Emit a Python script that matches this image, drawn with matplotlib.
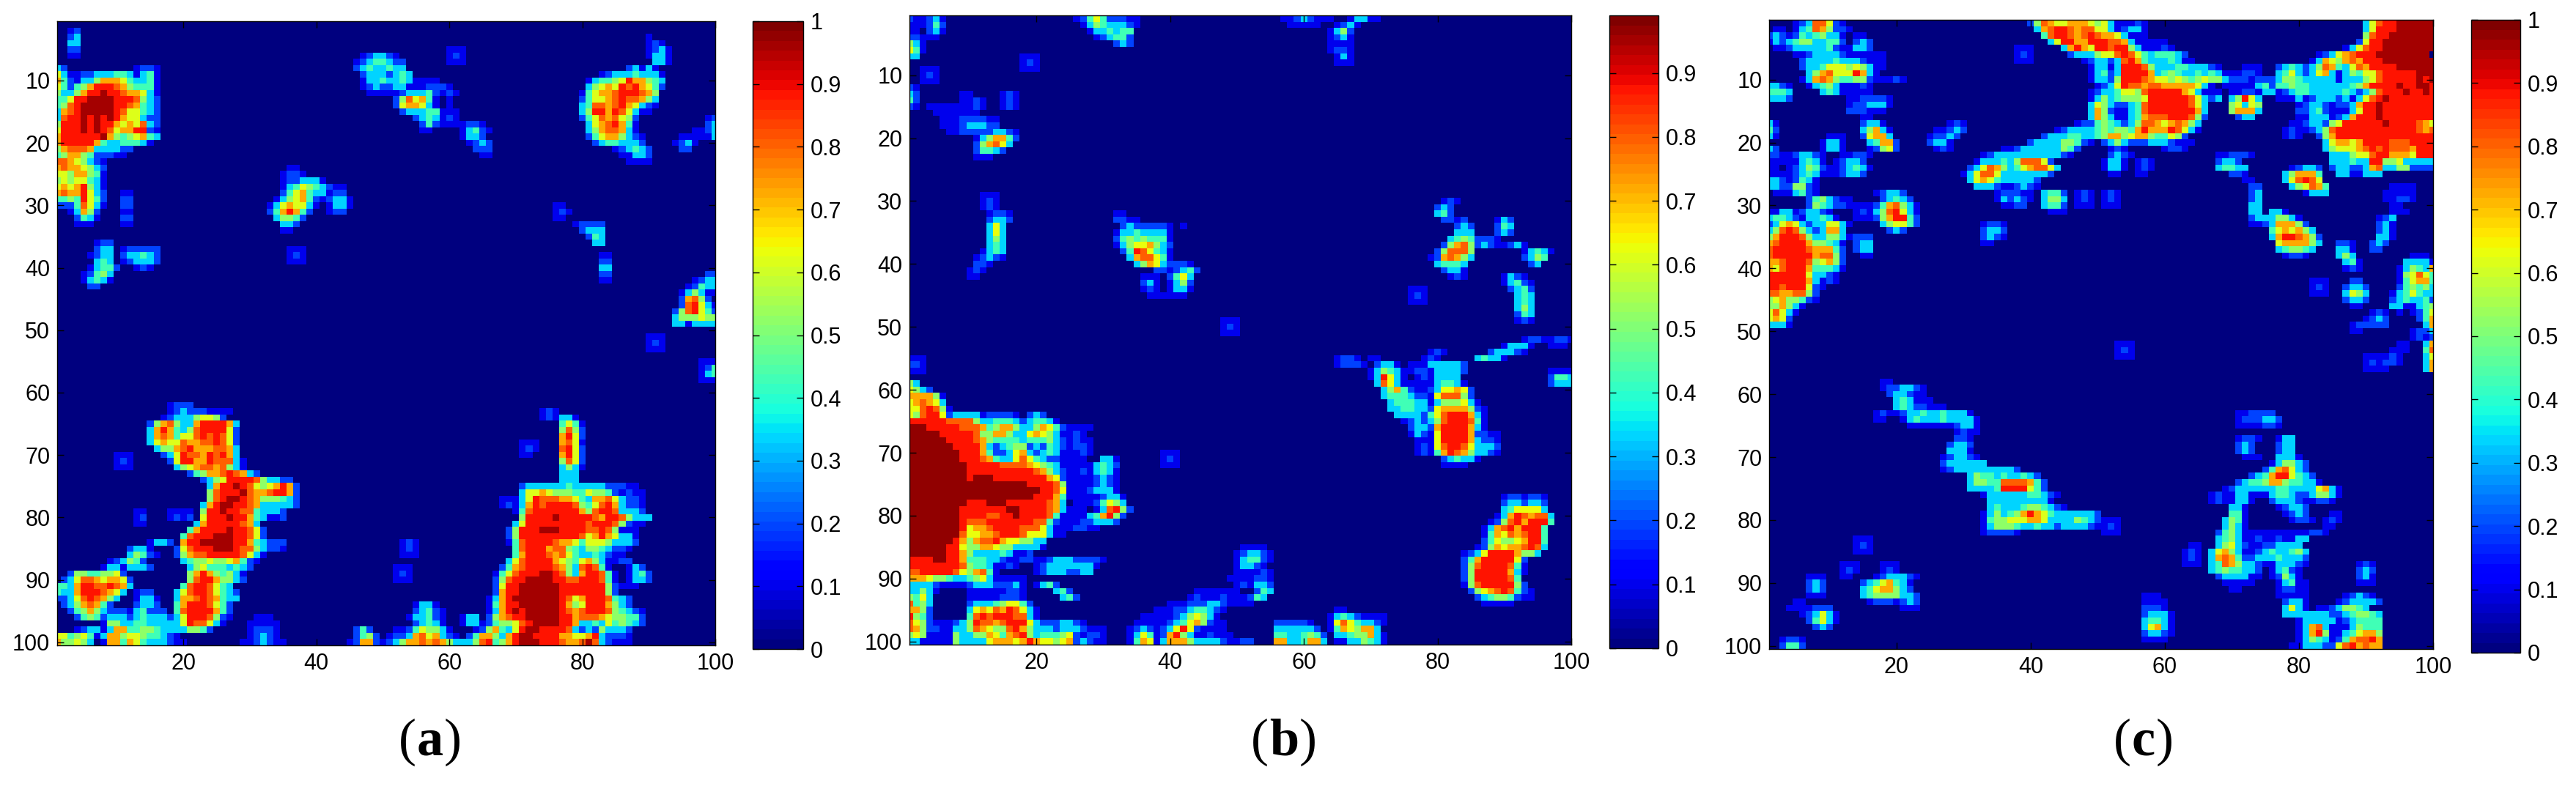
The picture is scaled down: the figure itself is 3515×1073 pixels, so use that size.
import matplotlib
matplotlib.use("Agg")
import matplotlib.pyplot as plt
import numpy as np

plt.rcParams['font.family'] = ['Liberation Sans', 'DejaVu Sans']

# digit in a run -> intensity of that cell
levels = {'0': 0, '1': .1, '2': .2, '3': .33, '4': .43, '5': .52, '6': .62,
          '7': .72, '8': .8, '9': .88, 'a': .96}

# each run is (row, first column, one digit per cell), 1-indexed
runs_a = [
    (2,3,"12"),(3,3,"23"),(4,3,"33"),(5,3,"22"),(6,3,"11"),
    (8,1,"3200000000001221"),(9,1,"6311223334431341"),(10,1,"7421335777643341"),(11,1,"6424579998754441"),
    (12,1,"5335799a99877631"),(13,1,"44699aaaa9998532"),(14,1,"4589aaaaa9987432"),(15,1,"3789aaaaa9866432"),
    (16,1,"3899a9a9a9766322"),(17,1,"5999a9a997676832"),(18,1,"6999a9a986779921"),(19,1,"7999999a75456743"),
    (20,1,"799999743344431"),(21,1,"578887333322"),(22,1,"457754222110"),(23,1,"8876532100"),
    (24,1,"78776532"),(25,1,"66577541"),(26,1,"56566431"),(27,1,"67679531"),(28,1,"78779632"),
    (29,1,"44549642"),(30,1,"22248631"),(31,1,"00137520"),(32,1,"0002431"),(33,1,"000111"),
    (6,47,"123321"),(7,46,"12344322"),(8,46,"23433433"),(9,47,"23332343"),(10,47,"133433431"),(11,47,"12322331"),(12,48,"11111"),
    (5,60,"111"),(6,60,"121"),(7,60,"111"),
    (10,56,"111"),(11,55,"112221"),(12,53,"233342121"),(13,52,"258674101"),(14,52,"267763101"),
    (15,53,"233344111"),(16,55,"2343121"),(17,56,"242111"),(18,56,"11"),
    (17,62,"1221"),(18,62,"13421"),(19,62,"1332"),(20,62,"01232"),(21,64,"222"),(22,65,"11"),
    (3,90,"1"),(4,90,"121"),(5,90,"1231"),(6,90,"1331"),(7,91,"331"),
    (8,87,"231310"),(9,83,"1233343331"),(10,81,"134456977543"),(11,81,"356769897642"),
    (12,80,"146778999875"),(13,80,"246678988753"),(14,80,"348878976321"),(15,80,"35997986311"),
    (16,80,"246878652"),(17,81,"36789741"),(18,81,"35788731"),(19,81,"246775321"),(20,82,"23443332"),
    (21,85,"123432"),(22,86,"11332"),(23,87,"1111"),
    (16,99,"12"),(17,99,"23"),(18,97,"1123"),(19,95,"111113"),(20,94,"1231"),(21,95,"22"),
    (24,36,"11"),(25,35,"1221"),(26,35,"1223331"),(27,35,"1346543211"),(28,35,"2467433122"),
    (29,34,"135674212331"),(30,33,"1367663101331"),(31,33,"247974200122"),(32,34,"35542"),(33,35,"332"),(34,35,"11"),
    (37,36,"111"),(38,36,"121"),(39,36,"111"),
    (28,11,"11"),(29,11,"22"),(30,11,"22"),(31,11,"11"),(32,11,"22"),(33,11,"11"),
    (36,7,"122"),(37,7,"233"),(38,6,"1233"),(39,7,"343"),(40,6,"13442"),(41,5,"12453"),(42,5,"13431"),(43,6,"22"),
    (37,11,"122222"),(38,11,"233432"),(39,11,"123332"),(40,13,"121"),
    (30,76,"11"),(31,76,"121"),(32,76,"11"),(33,79,"12222"),(34,80,"2333"),(35,81,"243"),(36,82,"33"),
    (38,83,"11"),(39,83,"22"),(40,83,"33"),(41,83,"22"),(42,83,"11"),
    (41,99,"22"),(42,97,"1233"),(43,96,"12433"),(44,95,"135311"),(45,95,"278520"),(46,95,"289631"),
    (47,94,"2589642"),(48,94,"3555655"),(49,94,"3313333"),
    (51,90,"111"),(52,90,"121"),(53,90,"111"),
    (55,98,"111"),(56,98,"124"),(57,98,"134"),(58,98,"111"),
    (62,18,"1222"),(63,18,"1232221111"),(64,17,"1233356652"),(65,15,"25785337999973"),
    (66,15,"37974358999962"),(67,15,"37874668989862"),(68,15,"36766877889862"),(69,16,"3557897778873"),
    (70,17,"236988798973"),(71,18,"269977988831"),(72,19,"35678878531"),(73,21,"24577898732"),
    (74,23,"23569999853322"),(75,24,"3799a986567972"),(76,24,"58999a87789972"),
    (77,24,"589aa987555432"),(78,23,"379aa99873333 32".replace(" ","")),(79,23,"599a998843332"),
    (80,23,"6999a99743112"),(81,22,"3799999873"),(82,21,"479999a99862"),(83,20,"48999aaa99862"),
    (84,20,"799aaaaa99743222"),(85,19,"268999aaa98853221"),(86,19,"25788999998631"),
    (87,20,"345565567421"),(88,21,"3564443432"),(89,21,"579754531"),(90,21,"589975532"),(91,20,"48998643"),
    (92,19,"3689986432"),(93,19,"3778987433"),(94,19,"479998642"),(95,19,"489999742"),(96,19,"369998521"),
    (97,19,"36988631"),(98,20,"35542"),
    (84,15,"1332"),(85,12,"2331"),(86,12,"35421"),(87,9,"123542"),(88,8,"13313332"),
    (89,3,"255445562"),(90,2,"23688767762"),(91,1,"443799889873"),(92,1,"43379998763"),(93,1,"2236898753"),
    (94,2,"23578742"),(95,3,"245753222"),(96,4,"245423"),
    (92,13,"122"),(93,13,"1331"),(94,13,"2332"),(95,12,"134222"),(96,9,"23323433322"),(97,8,"155334433333"),
    (98,4,"123313774455433321"),(99,1,"6645641377566544321"),(100,1,"75565301774764333211"),
    (70,10,"111"),(71,10,"121"),(72,10,"111"),(79,13,"11"),(80,13,"12"),(81,13,"11"),(79,18,"1111"),(80,18,"1212"),
    (96,31,"111"),(97,30,"11111"),(98,30,"12221"),(99,30,"12321"),(100,29,"1123211"),
    (98,46,"242"),(99,46,"2452"),(100,45,"12772"),
    (84,53,"121"),(85,53,"121"),(86,53,"111"),(88,52,"111"),(89,52,"121"),(90,52,"111"),
    (94,55,"1331"),(95,55,"23421"),(96,54,"133421"),(97,55,"23431"),(98,52,"112465531"),(99,51,"12237867321"),
    (100,50,"12357787875333"),(96,62,"133"),(97,62,"133"),
    (63,74,"121"),(64,74,"121331"),(65,77,"4641"),(66,77,"5852"),(67,77,"7962"),(68,77,"7861"),(69,77,"8962"),
    (70,77,"7962"),(71,77,"5862"),(72,77,"3531"),(73,77,"333"),(74,77,"333"),
    (68,71,"111"),(69,71,"121"),(70,71,"11"),
    (75,71,"233333343333322211"),(76,71,"366765554465542 1211".replace(" ","")),(77,68,"1113698887764377863221"),
    (78,68,"1213798999985468973221"),(79,70,"14899999997589983332"),(80,71,"59999a99999879985333"),
    (81,70,"36999999999899985211"),(82,69,"25999aaa999988985111"),(83,69,"25999999999867976331"),
    (84,69,"14899998776466653332"),(85,70,"489997885435543221"),(86,70,"47999878643343211"),
    (87,69,"3689999765467531122"),(88,68,"2478999987538984100132"),(89,67,"146899 9aa985379984101342".replace(" ","")),
    (90,67,"25899aaaa998899984101332"),(91,67,"2699aaaaaa9999999521 11".replace(" ","")),(92,67,"2799aaaaaa999999952"),
    (93,66,"1379aaaaaaa98679998432"),(94,66,"14799aaaaaa975699 97532".replace(" ","")),
    (95,66,"1379a9aaaaa987899985 4321".replace(" ","")),(96,66,"257899aaaaa9978887655442"),
    (97,65,"12455689aaaa9973343645432"),(98,64,"12574369aa99998323253332"),
    (99,63,"24775379aa999977667932221"),(100,62,"335894579aaa9998778a832111"),
]

runs_b = [
    (1,1,"211231"),(2,1,"111242"),(3,1,"110231"),(4,1,"22111"),(5,1,"531"),(6,1,"641"),(7,1,"33"),
    (9,3,"111"),(10,3,"121"),(11,3,"111"),(12,1,"21"),(13,1,"32"),(14,1,"42"),(15,1,"21"),
    (7,18,"111"),(8,18,"121"),(9,18,"111"),
    (1,26,"1246422211"),(2,26,"0135433321"),(3,28,"1334344"),(4,29,"123442"),(5,32,"232"),
    (1,57,"112321110013311"),(2,58,"11111001231"),(3,64,"1352"),(4,64,"1231"),(5,64,"1111"),(6,64,"1221"),(7,65,"131"),(8,65,"111"),
    (13,9,"11"),(13,15,"121"),(14,9,"1121"),(14,15,"121"),(15,4,"11111112100121"),(16,5,"1111111"),
    (17,6,"111222211"),(18,6,"111233322"),(19,6,"011222223321"),(20,11,"1357742"),(21,11,"257863"),(22,11,"24432"),(23,11,"111"),
    (29,12,"111"),(30,12,"121"),(31,12,"121"),(32,13,"1221"),(33,13,"2332"),(34,13,"363"),(35,13,"363"),(36,13,"353"),
    (37,13,"343"),(38,12,"1343"),(39,11,"12321"),(40,11,"221"),(41,10,"121"),(42,10,"11"),
    (32,32,"11"),(33,32,"2211"),(34,33,"2322222101"),(35,32,"133433331"),(36,32,"245454441"),(37,32,"135667532"),
    (38,33,"24986431"),(39,34,"3788641"),(40,35,"357632221"),(41,38,"2212342"),(42,36,"11102463"),(43,36,"23101352"),
    (44,36,"12101331"),(45,37,"111111"),
    (70,39,"111"),(71,39,"121"),(72,39,"111"),(49,48,"111"),(50,48,"121"),(51,48,"111"),
    (30,81,"121"),(31,80,"232"),(32,80,"342"),(33,81,"2212"),(34,83,"232"),(35,83,"333"),(36,82,"34542"),(37,81,"257851"),
    (38,80,"258885"),(39,79,"1278753"),(40,80,"34443"),(41,81,"2331"),(42,82,"121"),
    (33,89,"132"),(34,89,"243"),(35,89,"232"),(36,86,"1221"),(37,86,"23211231"),(38,93,"13431"),(39,93,"2354"),(40,94,"23"),
    (42,90,"1321"),(43,90,"13421"),(44,91,"2342"),(45,92,"343"),(46,92,"343"),(47,92,"353"),(48,92,"243"),(49,92,"121"),
    (44,76,"111"),(45,76,"121"),(46,76,"111"),
    (52,93,"12210121"),(53,90,"1333100111"),(54,79,"121000000233321"),(55,65,"1221011"),(55,78,"1210000034331"),
    (56,65,"1222101"),(56,71,"23310111333332"),(57,70,"135431"),(57,76,"122133332"),
    (58,70,"13963101213333"),(59,71,"38631111134431"),(60,72,"35742112366762"),(61,72,"34443221688852"),
    (62,73,"34443313555631"),(63,73,"334433267777521"),(64,74,"33332468999731"),(65,75,"1232358999841"),
    (66,76,"233279999731"),(67,76,"13216999972211"),(68,77,"1116999973221"),(69,77,"1216899863332"),(70,77,"1214798753321"),
    (71,81,"234331"),(72,81,"1111"),
    (52,97,"1221"),(57,97,"1111"),(58,97,"2443"),(59,97,"2333"),
    (77,90,"1221221"),(78,90,"2332332"),(79,90,"3466663"),(80,89,"137987883"),(81,88,"1258979994"),(82,87,"1378979994"),
    (83,87,"1476878994"),(84,87,"2465567994"),(85,86,"12576778983"),(86,84,"123699997553"),(87,84,"2479999962"),
    (88,84,"2589999841"),(89,84,"2599999731"),(90,84,"259999984"),(91,84,"1589999952"),(92,85,"2567898421"),(93,86,"234554211"),(94,87,"11111"),
    (55,1,"111"),(56,1,"221"),(57,1,"111"),(59,1,"53"),(60,1,"6532"),(61,1,"777751"),(62,1,"678763"),(63,1,"6689851"),
    (64,1,"658996233331222210232"),(65,1,"99999988885334443234431"),(66,1,"aaa9999988874577533576421111"),
    (67,1,"aaaaa9999985577533676531121"),(68,1,"aaaaaa9999875444434445321211"),(69,1,"aaaaaaa999973234552324321221"),
    (70,1,"aaaaaaaa99974223673234311121"),(71,1,"aaaaaaaa999874336864322111100331"),
    (72,1,"aaaaaaaaa9999988887654311111 3432".replace(" ","")),(73,1,"aaaaaaaaa99999999998753211213431"),
    (74,1,"aaaaaaaaa9aaa9999999976211112321"),(75,1,"aaaaaaaaaaaaaaaaaa99998511112321"),
    (76,1,"aaaaaaaaaaaaaaaaaaaa998611123331"),(77,1,"aaaaaaaaaaaaaaaaaaa99974111112331"),
    (78,1,"aaaaaaaaa999aaa999999873011124653"),(79,1,"aaaaaaaa9999999aa99998731110138952"),
    (80,1,"aaaaaaaa99998899a9999841111347952"),(81,1,"aaaaaaaa9888999999988421112 23332".replace(" ","")),
    (82,1,"aaaaaaaa967789999888631112211"),(83,1,"aaaaaaaa866778999866 6311".replace(" ","")),(84,1,"aaaaaaa97578897665533"),
    (85,1,"aaaaaa99655776553333 1".replace(" ","")),(86,1,"aaaaaa99753333431 12".replace(" ","")),
    (87,1,"9999aa997444332112211233322221"),(88,1,"99999999854431121001233333331"),
    (89,1,"8899999865784100000123332233"),(90,1,"777655433456311111"),(91,1,"3333211112333222310134 2".replace(" ","")),
    (92,1,"3353100001111112210000342"),(93,1,"5463"),(94,1,"8453"),
    (93,10,"111112221"),(94,10,"2333456642"),(93,24,"342"),(95,1,"7752"),(95,10,"36768798631"),(96,1,"9542"),(96,10,"48989998831"),
    (97,1,"8652111"),(97,8,"23598878999632223321"),(98,1,"875221133587655897533323332111"),
    (99,1,"565111153355764789534445621221"),(100,1,"331111153333677767976656723211"),
    (85,51,"1111"),(86,50,"123321"),(87,50,"134421"),(88,50,"13321"),(89,50,"111121"),(90,49,"1111221"),(91,50,"121332"),
    (92,44,"111111100243"),(93,43,"121112111243"),(94,40,"1112223321111"),(95,38,"11122344321"),(96,36,"111112356531"),
    (97,35,"11111234675211"),(98,34,"123212369621111"),(99,34,"1364127953112111"),(100,34,"1476137775333321122"),
    (97,56,"222221"),(98,56,"3333332"),(99,56,"44334542"),(100,56,"77334773"),
    (95,65,"11"),(96,64,"134321111"),(97,64,"168643321"),(98,64,"14765773"),(99,65,"33455731"),(100,65,"11335431"),
]

runs_c = [
    (1,5,"12388621"),(2,2,"110134875221"),(3,1,"232124345331011"),(4,1,"1323455334420232"),(5,2,"112333334211332"),
    (6,5,"11233332111111"),(7,6,"2333343332111"),(8,6,"2334666565311"),(9,7,"35786669731"),(10,6,"1378754455211121"),
    (11,1,"3321"),(11,7,"1345311121"),(12,1,"4443"),(12,9,"34311111"),(13,1,"3332"),(13,13,"1122221"),(14,13,"1223331"),
    (15,13,"222111"),(16,15,"11"),(17,1,"31"),(17,15,"2331"),(18,1,"42"),(18,15,"35731"),(19,1,"31"),(19,15,"26773"),
    (20,16,"34772"),(21,16,"12562"),(19,10,"111"),(20,9,"1331"),(21,9,"1331"),
    (21,1,"32"),(22,1,"2211233210011221"),(23,1,"111113431012332"),(24,1,"1101235421123431"),(25,1,"111123431112332"),
    (26,1,"33212431"),(27,1,"33225521"),(28,2,"1113421"),(29,7,"2453211"),(30,7,"2543221"),(31,1,"1133123321"),
    (32,1,"34432133431"),(33,1,"2367632336631"),(34,1,"358985323773"),(35,1,"5799985335531"),
    (36,1,"789999755431"),(37,1,"899999877742"),(38,1,"899999978852"),(39,1,"778999856752"),(40,1,"768999744431"),
    (41,1,"99999963321"),(42,1,"99999973121"),(43,1,"998999621"),(44,1,"88778852"),(45,1,"56755421"),(46,1,"557531"),
    (47,1,"68631"),(48,1,"6762"),(49,1,"3331"),
    (28,17,"12332"),(29,18,"23432"),(30,17,"2478531"),(31,17,"3589631"),(32,17,"2579942"),(33,18,"356642"),(34,19,"232"),
    (30,14,"111"),(31,14,"121"),(32,14,"111"),(35,14,"222"),(36,14,"233"),(37,14,"233"),(38,15,"11"),
    (17,28,"121"),(18,26,"11232"),(19,25,"12232"),(20,25,"2331"),(21,26,"121"),
    (17,47,"1221"),(18,44,"123332"),(19,42,"23334431"),(20,40,"2333355421"),(21,36,"112333333542"),(22,33,"12333333333321"),
    (23,32,"133343588862"),(24,31,"23687534678863"),(25,30,"13688633333332"),(26,31,"36764333332"),(27,32,"3332112321"),
    (28,35,"1222110344201210121"),(29,35,"1323210355301210121"),(30,36,"112200344201110111"),(31,43,"111"),
    (33,33,"1221"),(34,33,"2332"),(35,33,"2321"),(36,33,"11"),(5,38,"111"),(6,38,"121"),(7,38,"111"),
    (1,40,"25876677765631112 1".replace(" ","")),(2,41,"37899878866312331"),(3,42,"4899878987763111"),
    (4,43,"369977999887311111"),(5,45,"37976998995311121"),(6,46,"233356689864344432"),(7,48,"12332389743334311"),
    (8,49,"13313999853334433321"),(9,49,"13423999973454334343111"),(10,49,"133259998766565456553111"),
    (11,50,"12369887887777763101"),(12,49,"12334665899999763111"),(13,49,"13534555699999986323"),
    (14,49,"365322348999999863"),(15,49,"375211348999999973"),(16,49,"375311347888999852"),(17,49,"24543235887678753"),
    (18,48,"134545547977798631"),(19,48,"1345775677544652"),(20,51,"23532223332111"),(21,52,"121000001221"),(22,52,"2321"),
    (23,51,"13310121"),(24,51,"13310121"),(25,52,"110011"),
    (12,70,"11221"),(13,70,"35963"),(14,70,"56365"),(15,70,"57773"),(16,71,"233"),
    (8,72,"111"),(9,71,"1221"),(10,68,"22222122"),(11,69,"11111341"),(12,75,"33"),
    (1,90,"36899aaaaaa"),(2,90,"36999aaaaaa"),(3,90,"5899aaaaaaa"),(4,89,"2699aaaaaaaa"),(5,87,"136899aaaaaaaa"),
    (6,83,"123678999aaaaaaaa"),(7,82,"1376578799 9aaaaaaaa".replace(" ","")),(8,77,"234323587436879999aaaaaa"),
    (9,77,"346323673135466899999aaa"),(10,76,"2355433333133356899999a9a"),(11,76,"2445443333334579999a99aa9"),
    (12,76,"11234433333432358999a99a9"),(13,77,"1113123332313689a9999999"),(14,80,"123321223799a99999999"),
    (15,80,"223421113699a99999999"),(16,80,"113331237999a99999999"),(17,79,"1123325699 9999a9999876".replace(" ","")),
    (18,78,"12112358999999999999878"),(19,78,"12100257999999999999999"),(20,84,"36776799998889999"),
    (21,84,"35666789898887999"),(22,85,"3335668997776999"),(23,85,"3334339955633333"),(24,85,"2332237833552222"),(25,86,"3311333"),
    (22,68,"112221"),(23,68,"2332"),(24,68,"34433"),(25,70,"221"),(26,72,"11"),(27,73,"22"),(28,73,"23"),(29,73,"23"),
    (30,73,"33"),(31,73,"33"),(32,73,"233"),(33,73,"112"),
    (31,76,"331"),(32,76,"35531"),(33,76,"377752"),(34,76,"4676753"),(35,76,"37998752"),(36,77,"6777753"),(37,77,"345543"),(38,78,"1221"),
    (24,79,"12332"),(25,78,"357774"),(26,78,"368986"),(27,79,"356874"),(28,81,"1333"),
    (36,86,"221"),(37,86,"331"),(38,86,"353"),(39,87,"341"),(40,87,"121"),(42,82,"111"),(43,82,"121"),(44,82,"111"),
    (42,88,"22"),(43,87,"2332"),(44,87,"3653"),(45,87,"2332"),(46,88,"11"),(47,91,"121"),(48,90,"1232"),(49,88,"122222"),(50,88,"11"),
    (30,94,"11"),(31,94,"111"),(32,92,"123"),(33,92,"231"),(34,92,"231"),(35,92,"331"),(36,91,"232"),(37,91,"22"),
    (27,94,"1111"),(28,93,"11111"),(29,93,"11221"),
    (38,97,"111"),(39,96,"33331"),(40,95,"135437"),(41,95,"156864"),(42,95,"146774"),(43,95,"245453"),(44,94,"1346433"),
    (45,94,"2343342"),(46,94,"3311345"),(47,95,"101246"),(48,98,"247"),(49,99,"37"),(50,97,"1223"),(51,97,"1212"),
    (52,99,"37"),(53,99,"48"),(54,99,"36"),(55,99,"37"),(56,99,"37"),
    (52,95,"11"),(53,94,"111"),(54,90,"111121"),(55,90,"121221"),(56,90,"1111"),
    (52,53,"111"),(53,53,"121"),(54,53,"111"),
    (58,18,"11"),(59,18,"1223321"),(60,19,"233211"),(61,20,"343111"),(62,20,"34322111"),(63,17,"121123343343331"),
    (64,17,"1100134333433331"),(65,22,"11111112331"),(66,29,"1211"),(67,29,"221"),(68,28,"2332"),(69,28,"3331"),
    (70,27,"123321"),(71,27,"2333333"),(72,27,"123333333332"),(73,31,"35443433432"),(74,31,"355448888742"),(75,31,"333349999642"),
    (76,33,"133333344321"),(77,34,"3333333331"),(78,34,"343334554321"),(79,33,"135345797643333332"),(80,33,"145566677633335432"),
    (81,33,"135554334332333321"),(82,33,"122221"),
    (63,71,"112222"),(64,71,"1222332"),(65,71,"1111221"),(67,71,"1221"),(68,71,"232"),(69,71,"232"),(70,72,"111"),
    (67,77,"133"),(68,77,"233"),(69,77,"233"),(70,77,"3331"),(71,76,"135532"),(72,75,"2478632"),(73,73,"2347996432"),
    (74,71,"2344577544331"),(75,69,"123333334433336731"),(76,67,"12113311134432235531"),(77,67,"1211331002333211221"),
    (78,70,"331"),(78,77,"12332"),(79,70,"441"),(79,78,"1232"),(79,85,"11"),(80,69,"3541"),(80,79,"1221"),(80,84,"121"),
    (81,69,"3531"),(81,84,"11"),(82,68,"24531111111111221"),(83,68,"34531121121133"),(84,64,"11"),(84,68,"3563211223333"),
    (85,63,"1210367531123433453"),(86,63,"1210378742233343332"),(87,63,"1110348753321133321"),(88,67,"34544332013421"),
    (89,68,"2333311012531"),(90,69,"1111100013411"),(91,70,"11"),(91,77,"12211"),(92,77,"11111"),
    (93,78,"2331"),(94,78,"3631"),(95,78,"3331"),
    (92,57,"111"),(93,57,"1111"),(94,57,"2221"),(95,57,"23331"),(96,57,"34431"),(97,57,"36731"),(98,57,"23321"),(99,57,"1111"),
    (80,51,"111"),(81,51,"121"),(82,51,"111"),(83,14,"111"),(84,14,"121"),(85,14,"111"),(87,12,"111"),(88,12,"121"),(89,12,"11"),
    (87,18,"111"),(88,18,"121"),(89,17,"1233321"),(90,15,"23467431"),(91,15,"34677532"),(92,15,"345555332"),(93,16,"12221232"),(94,21,"111"),
    (89,7,"111"),(90,7,"232"),(91,7,"232"),(92,7,"111"),(93,5,"11"),(94,4,"1111222"),(95,6,"123631"),(96,7,"24631"),(97,8,"232"),
    (99,3,"1221"),(100,3,"2442"),
    (92,87,"12321"),(93,86,"1233332"),(94,83,"11235543"),(95,81,"333322345543"),(96,80,"1333331234444"),(97,80,"1378311135444"),
    (98,80,"1379511346775"),(99,80,"1354312478897"),(100,79,"11333226897877"),
    (87,89,"121"),(88,89,"232"),(89,89,"231"),(90,89,"111"),
]

panel_runs = [runs_a, runs_b, runs_c]
panel_names = ['a', 'b', 'c']
panel_vmax = [1.0, 0.99, 1.0]
x_ticks = [20, 40, 60, 80, 100]
y_ticks = [10, 20, 30, 40, 50, 60, 70, 80, 90, 100]
bar_ticks = [0, .1, .2, .3, .4, .5, .6, .7, .8, .9, 1]

W, H = 3515, 1073
# pixel boxes: left, right, top, bottom
ax_box = [(78, 976, 29, 881), (1241, 2144, 21, 880), (2414, 3320, 27, 886)]
bar_box = [(1027, 1096, 29, 886), (2196, 2263, 21, 885), (3372, 3439, 27, 891)]
label_x = [587, 1752, 2925]
letter_w = [38, 42, 34]


def to_axes(fig, box):
    l, r, t, b = box
    return fig.add_axes([l / W, 1 - b / H, (r - l) / W, (b - t) / H])


def build_grid(runs):
    grid = np.zeros((100, 100))
    for row, col, cells in runs:
        for k, c in enumerate(cells):
            if col - 1 + k < 100:
                grid[row - 1, col - 1 + k] = max(grid[row - 1, col - 1 + k], levels[c])
    return grid


fig = plt.figure(figsize=(W / 100, H / 100), dpi=100)
cmap = plt.get_cmap('jet', 64)

for i in range(3):
    ax = to_axes(fig, ax_box[i])
    grid = build_grid(panel_runs[i])
    im = ax.imshow(grid, cmap=cmap, vmin=0, vmax=panel_vmax[i], interpolation='nearest',
                   aspect='auto', extent=(0.5, 100.5, 100.5, 0.5))
    ax.set_xlim(1, 100)
    ax.set_ylim(100.5, 0.5)
    ax.set_xticks(x_ticks)
    ax.set_yticks(y_ticks)
    ax.tick_params(direction='in', top=True, right=True, length=6.5, width=1, labelsize=22, pad=7)
    for s in ax.spines.values():
        s.set_linewidth(1)

    cax = to_axes(fig, bar_box[i])
    cb = fig.colorbar(im, cax=cax)
    ticks = [t for t in bar_ticks if t <= panel_vmax[i]]
    cb.set_ticks(ticks)
    cb.set_ticklabels(['%g' % t for t in ticks])
    cb.ax.tick_params(direction='in', left=True, right=True, length=6.5, width=1, labelsize=22, pad=7)
    cb.outline.set_linewidth(1)

    # panel letter, bold between regular parentheses
    y = 1 - 1013 / H
    w = letter_w[i]
    fig.text(label_x[i] / W, y, panel_names[i], family='Liberation Serif', weight='bold',
             fontsize=52, ha='center', va='center')
    fig.text((label_x[i] - w / 2 - 12) / W, y, '(', family='Liberation Serif',
             fontsize=52, ha='center', va='center')
    fig.text((label_x[i] + w / 2 + 12) / W, y, ')', family='Liberation Serif',
             fontsize=52, ha='center', va='center')

fig.savefig('out.png', dpi=100)
